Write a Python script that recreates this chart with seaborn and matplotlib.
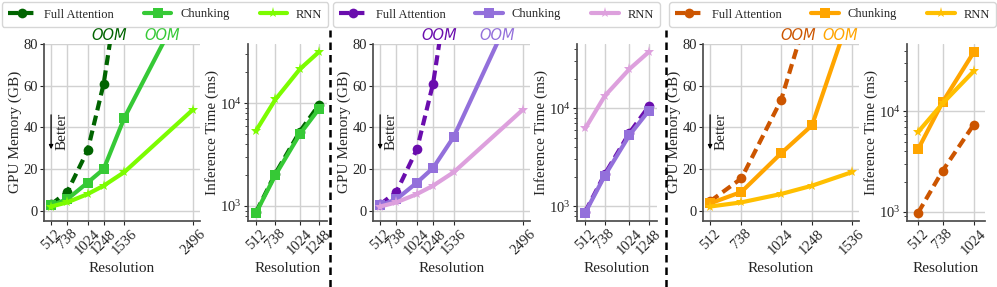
import numpy as np
import seaborn as sns
import matplotlib.pyplot as plt

methods = ["Full Attention", "Chunking", "RNN"]

# resolutions
mem_res = [512, 738, 1024, 1248, 1536, 2496]
mem_res_3 = [512, 738, 1024, 1248, 1536]
time_res = [512, 738, 1024, 1248]
time_res_3 = [512, 738, 1024]

# group 1 (green)
mem_fa_1 = [3, 9, 29, 61, 126, np.nan]
mem_chunk_1 = [2.5, 5.5, 13.5, 20, 44.5, 108]
mem_rnn_1 = [2, 4, 8, 12, 18.5, 48.5]
time_fa_1 = [875, 2070, 5300, 9630]
time_chunk_1 = [860, 2000, 5000, 8800]
time_rnn_1 = [5430, 10900, 21500, 31600]

# group 2 (purple)
mem_fa_2 = [3, 9, 29.5, 61, 126, np.nan]
mem_chunk_2 = [2.5, 5.5, 13.5, 20.5, 35.5, 107]
mem_rnn_2 = [2, 4, 8, 12, 18.5, 48.5]
time_fa_2 = [880, 2120, 5590, 10400]
time_chunk_2 = [860, 2050, 5300, 9400]
time_rnn_2 = [6200, 13300, 25000, 37300]

# group 3 (orange)
mem_fa_3 = [4.5, 15.5, 53, 102, np.nan]
mem_chunk_3 = [3.5, 9, 27.5, 41, 97]
mem_rnn_3 = [2, 4, 8, 12, 18.5]
time_fa_3 = [980, 2570, 7380]
time_chunk_3 = [4200, 12400, 38800]
time_rnn_3 = [6230, 12000, 25100]

colors_1 = ["#006400", "#36c936", "#7CFC00"]
colors_2 = ["#6a0dad", "#9370db", "#dda0dd"]
colors_3 = ["#cc5500", "#ffa500", "#ffbf00"]

styles = [
    dict(marker="o", linestyle=(0, (2.4, 1.3)), markersize=7),
    dict(marker="s", linestyle="-", markersize=7.5),
    dict(marker="*", linestyle="-", markersize=8),
]

sns.set_theme(style="whitegrid")
plt.rcParams["font.family"] = "serif"
plt.rcParams["font.serif"] = ["Liberation Serif", "DejaVu Serif"]
plt.rcParams["mathtext.fontset"] = "stix"
plt.rcParams["axes.edgecolor"] = "0.3"
plt.rcParams["grid.color"] = "0.82"

fig = plt.figure(figsize=(9.97, 2.87), dpi=100)

W, H = 997, 287
bottom = 66.3 / H
height = (220.7 - 44) / H


def add_ax(left, right):
    return fig.add_axes([left / W, bottom, (right - left) / W, height])


def style_ax(ax, xticks):
    sns.despine(ax=ax)
    ax.set_xticks(xticks)
    ax.set_xticklabels([str(v) for v in xticks], rotation=45, fontsize=10.5)
    ax.tick_params(axis="both", which="major", length=3, width=0.8,
                   bottom=True, left=True, labelsize=10.5, pad=1.5)
    ax.set_xlabel("Resolution", fontsize=11)
    ax.grid(True, which="major")
    if ax.get_legend() is not None:
        ax.get_legend().remove()


def plot_group(ax_mem, ax_time, colors, m_res, mems, t_res, times, t_margin):
    for i, name in enumerate(methods):
        kw = dict(color=colors[i], linewidth=3, markeredgewidth=0, **styles[i])
        sns.lineplot(x=m_res, y=mems[i], ax=ax_mem, label=name, **kw)
        sns.lineplot(x=t_res, y=times[i], ax=ax_time, **kw)
        # out of memory annotation where the curve leaves the plot
        vals = np.array(mems[i], dtype=float)
        over = np.where(vals > 80)[0]
        if len(over):
            j = over[0]
            x0, x1 = m_res[j - 1], m_res[j]
            y0, y1 = vals[j - 1], vals[j]
            xc = x0 + (80 - y0) * (x1 - x0) / (y1 - y0)
            ax_mem.text(xc, 80.5, "OOM", color=colors[i], ha="center", va="bottom",
                        fontsize=10.5, style="italic", family="DejaVu Sans")

    ax_mem.set_ylim(-4.8, 80)
    ax_mem.set_yticks([0, 20, 40, 60, 80])
    ax_mem.set_ylabel("GPU Memory (GB)", fontsize=11, labelpad=1)
    style_ax(ax_mem, m_res)
    ax_mem.annotate("", xy=(512, 29.5), xytext=(512, 46),
                    arrowprops=dict(arrowstyle="-|>", lw=0.9, color="black",
                                    mutation_scale=6, shrinkA=0, shrinkB=0))
    ax_mem.annotate("Better", xy=(512, 38), xytext=(3, 0), textcoords="offset points",
                    rotation=90, ha="left", va="center", fontsize=11)

    ax_time.set_yscale("log")
    ax_time.margins(x=t_margin)
    ax_time.set_ylabel("Inference Time (ms)", fontsize=11, labelpad=1)
    style_ax(ax_time, t_res)
    ax_time.tick_params(axis="y", which="minor", left=True, length=2, width=0.6)
    return ax_mem.get_legend_handles_labels()


groups = [
    (44, 200, 248, 327, colors_1, mem_res, [mem_fa_1, mem_chunk_1, mem_rnn_1],
     time_res, [time_fa_1, time_chunk_1, time_rnn_1], 0.13, 5, 325),
    (373, 530, 577, 657, colors_2, mem_res, [mem_fa_2, mem_chunk_2, mem_rnn_2],
     time_res, [time_fa_2, time_chunk_2, time_rnn_2], 0.13, 338, 655),
    (703, 859, 907, 985, colors_3, mem_res_3, [mem_fa_3, mem_chunk_3, mem_rnn_3],
     time_res_3, [time_fa_3, time_chunk_3, time_rnn_3], 0.2, 673, 992),
]

for ml, mr, tl, tr, cols, mres, mems, tres, times, tm, lx0, lx1 in groups:
    ax_mem = add_ax(ml, mr)
    ax_time = add_ax(tl, tr)
    handles, labels = plot_group(ax_mem, ax_time, cols, mres, mems, tres, times, tm)
    fig.legend(handles, labels, loc="center", ncol=3,
               bbox_to_anchor=((lx0 + lx1) / 2 / W, 1 - 14.5 / H),
               borderaxespad=0, fontsize=9, handlelength=2.2, handletextpad=0.7,
               frameon=True, borderpad=0.5, columnspacing=2.4)

# dashed separators between the groups
for xs in [330, 666]:
    fig.add_artist(plt.Line2D([xs / W, xs / W], [0, 1 - 30 / H], color="black",
                              linestyle=(0, (3, 2)), linewidth=1.8,
                              transform=fig.transFigure))

fig.savefig("out.png", dpi=100)
